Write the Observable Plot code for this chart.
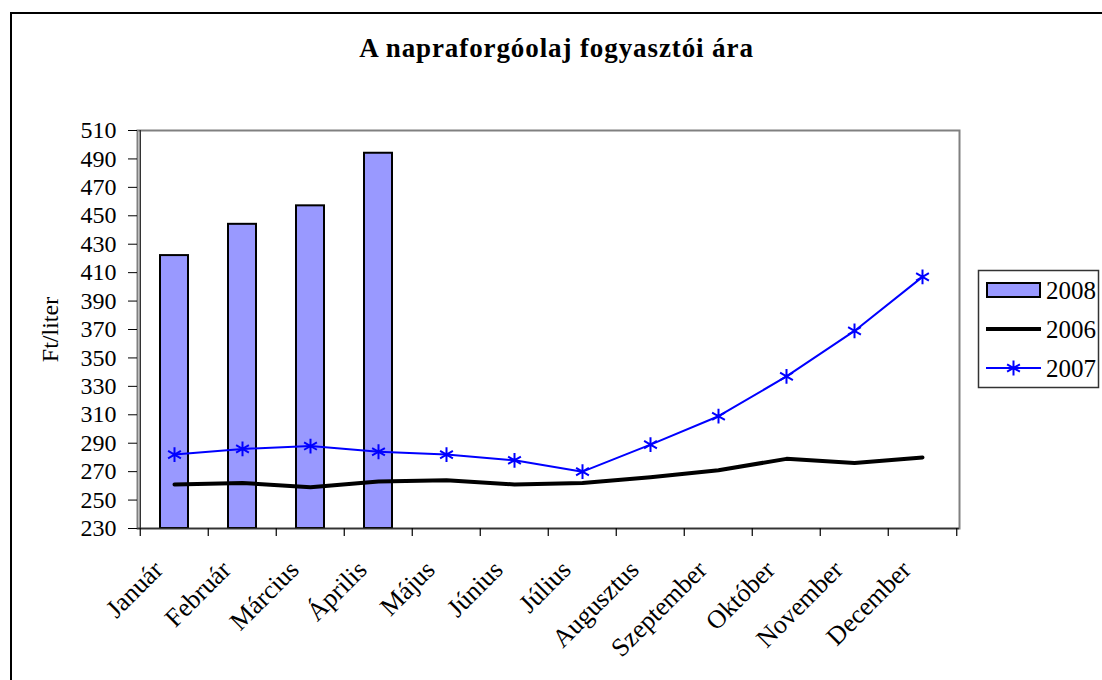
<!DOCTYPE html>
<html>
<head>
<meta charset="utf-8">
<script src="https://cdn.jsdelivr.net/npm/d3@7"></script>
<script src="https://cdn.jsdelivr.net/npm/@observablehq/plot@0.6"></script>
<style>
  html, body { margin: 0; padding: 0; background: #fff; overflow: hidden; }
  #wrap { position: relative; width: 1102px; height: 680px; font-family: "Liberation Serif", "Times New Roman", serif; }
  #border { position: absolute; left: 10px; top: 12px; width: 1200px; height: 800px; border-left: 2px solid #000; border-top: 2px solid #000; }
  #title { position: absolute; left: 0; top: 33px; width: 1113px; text-align: center; font-size: 27px; letter-spacing: 0.9px; font-weight: bold; line-height: 30px; color: #000; }
  #chart { position: absolute; left: 0; top: 0; }
  #legend { position: absolute; left: 0; top: 0; }
</style>
</head>
<body>
<div id="wrap">
  <div id="border"></div>
  <div id="chart"></div>
  <div id="title">A napraforgóolaj fogyasztói ára</div>
  <svg id="legend" width="1102" height="680"></svg>
</div>
<script>
const months = ["Január","Február","Március","Április","Május","Június","Július","Augusztus","Szeptember","Október","November","December"];
const values2008 = [422, 444, 457, 494];
const values2006 = [261, 262, 259, 263, 264, 261, 262, 266, 271, 279, 276, 280];
const values2007 = [282, 286, 288, 284, 282, 278, 270, 289, 309, 337, 369, 407];
const yTicks = [230, 250, 270, 290, 310, 330, 350, 370, 390, 410, 430, 450, 470, 490, 510];
const seriesNames = ["2008", "2006", "2007"];

const bars2008 = values2008.map((v, i) => ({month: months[i], value: v}));
const line2006 = values2006.map((v, i) => ({month: months[i], value: v}));
const line2007 = values2007.map((v, i) => ({month: months[i], value: v}));

const W = 1102, H = 680;
const mL = 137, mR = 143, mT = 130, mB = 152;
const half = (W - mL - mR) / months.length / 2;
const yMin = yTicks[0], yMax = yTicks[yTicks.length - 1];
const tickLenData = 8 * (yMax - yMin) / (H - mT - mB);
const FONT = '"Liberation Serif", "Times New Roman", serif';

const chart = Plot.plot({
  width: W, height: H,
  marginLeft: mL, marginRight: mR, marginTop: mT, marginBottom: mB,
  style: {fontFamily: FONT, fontSize: "24px", color: "#000", background: "transparent", overflow: "visible"},
  x: {type: "band", domain: months, padding: 0},
  y: {domain: [yMin, yMax]},
  marks: [
    Plot.frame({stroke: "#808080", strokeWidth: 2}),
    Plot.barY(bars2008, {x: "month", y1: yMin, y2: "value", fill: "#9999ff", stroke: "#000", strokeWidth: 2, insetLeft: 20, insetRight: 20}),
    Plot.line(line2006, {x: "month", y: "value", stroke: "#000", strokeWidth: 4}),
    Plot.line(line2007, {x: "month", y: "value", stroke: "#0000ff", strokeWidth: 2}),
    Plot.dot(line2007, {x: "month", y: "value", symbol: "asterisk", r: 7, stroke: "#0000ff", strokeWidth: 2}),
    Plot.ruleY([yMin], {stroke: "#333", strokeWidth: 1.5}),
    Plot.ruleX(months, {x: d => d, dx: -half, y1: yMin, y2: yMin - tickLenData, stroke: "#000", strokeWidth: 1.2}),
    Plot.ruleX([months[months.length - 1]], {x: d => d, dx: half, y1: yMin, y2: yMin - tickLenData, stroke: "#000", strokeWidth: 1.2}),
    Plot.ruleX([months[0]], {x: d => d, dx: -half, y1: yMin, y2: yMax, stroke: "#333", strokeWidth: 1.5}),
    Plot.axisY({ticks: yTicks, tickSize: 9, tickPadding: 12, tickFormat: d => String(d), fontSize: 24, label: "Ft/liter", labelAnchor: "center", labelOffset: 97, labelArrow: "none", fill: "#000"}),
    Plot.axisX({tickSize: 0, tickRotate: -45, tickPadding: 37, dx: -16, fontSize: 26, label: null, fill: "#000"})
  ]
});
document.getElementById("chart").appendChild(chart);

// Legend
const lg = d3.select("#legend");
lg.append("rect").attr("x", 978.5).attr("y", 270.5).attr("width", 120).attr("height", 117)
  .attr("fill", "#fff").attr("stroke", "#333").attr("stroke-width", 1.5);
const rowsY = [290, 329, 368];
const g = lg.append("g").style("font-family", FONT).style("font-size", "25px");
g.append("rect").attr("x", 987).attr("y", rowsY[0] - 7).attr("width", 53).attr("height", 14)
  .attr("fill", "#9999ff").attr("stroke", "#000").attr("stroke-width", 2);
g.append("line").attr("x1", 986).attr("x2", 1041).attr("y1", rowsY[1]).attr("y2", rowsY[1])
  .attr("stroke", "#000").attr("stroke-width", 4);
g.append("line").attr("x1", 986).attr("x2", 1041).attr("y1", rowsY[2]).attr("y2", rowsY[2])
  .attr("stroke", "#0000ff").attr("stroke-width", 2);
g.append("path").attr("transform", `translate(1013.5,${rowsY[2]})`)
  .attr("d", d3.symbol(d3.symbolAsterisk, 154)()).attr("fill", "none").attr("stroke", "#0000ff").attr("stroke-width", 2);
seriesNames.forEach((s, i) => {
  g.append("text").attr("x", 1046).attr("y", rowsY[i]).attr("dy", "0.35em").attr("fill", "#000").text(s);
});
</script>
</body>
</html>
